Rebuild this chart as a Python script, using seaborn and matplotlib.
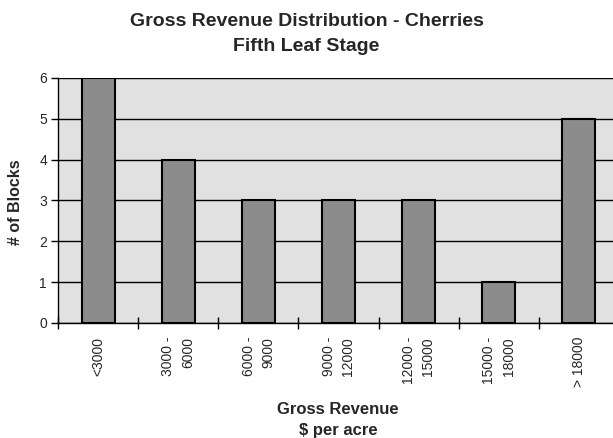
import matplotlib
matplotlib.use("Agg")
import matplotlib.pyplot as plt
import seaborn as sns
import pandas as pd
import numpy as np

categories = ["<3000", "3000 -\n6000", "6000 -\n9000", "9000 -\n12000",
              "12000 -\n15000", "15000 -\n18000", "> 18000"]
blocks = [6, 4, 3, 3, 3, 1, 5]
y_ticks = [0, 1, 2, 3, 4, 5, 6]

sns.set_style("white")
plt.rcParams['font.family'] = ['Liberation Sans', 'DejaVu Sans']

df = pd.DataFrame({"cat": categories, "n": blocks})

fig = plt.figure(figsize=(6.13, 4.38), dpi=100)
W, H = 613, 438
left, right, top, bottom = 58, 619, 78, 323
ax = fig.add_axes([left / W, 1 - bottom / H, (right - left) / W, (bottom - top) / H])
ax.set_facecolor("#e1e1e1")

sns.barplot(data=df, x="cat", y="n", ax=ax, color="#8c8c8c", saturation=1,
            edgecolor="black", linewidth=1.5, width=0.41, zorder=3)
for p in ax.patches:
    p.set_facecolor("#8c8c8c")

ax.set_xlim(-0.5, len(categories) - 0.5)
ax.set_ylim(0, 6)
ax.set_yticks(y_ticks)
ax.yaxis.grid(True, color="black", linewidth=1, zorder=1)
ax.set_axisbelow(True)

for s in ["top", "right"]:
    ax.spines[s].set_visible(False)
for s in ["left", "bottom"]:
    ax.spines[s].set_color("black")
    ax.spines[s].set_linewidth(1)
    ax.spines[s].set_zorder(4)

ax.tick_params(axis="y", direction="out", length=5, width=1, color="black",
               labelsize=10, pad=3, left=True)
ax.set_xticks(range(len(categories)))
ax.set_xticklabels(categories, rotation=90, ha="center", va="top",
                   multialignment="right", fontsize=10, linespacing=1.5)
ax.tick_params(axis="x", length=0, pad=10, bottom=True)
ax.set_xticks(np.arange(-0.5, len(categories), 1.0), minor=True)
ax.tick_params(axis="x", which="minor", direction="inout", length=9, width=1,
               color="black", bottom=True)

ax.set_xlabel("")
ax.set_ylabel("")

fig.text(16 / W, 1 - 202 / H, "# of Blocks", ha="center", va="center",
         rotation=90, fontsize=11.5, fontweight="bold")
fig.text(338 / W, 1 - 414 / H, "Gross Revenue", ha="center", va="baseline",
         fontsize=12, fontweight="bold")
fig.text(338 / W, 1 - 435 / H, "$ per acre", ha="center", va="baseline",
         fontsize=12, fontweight="bold")
fig.text(0.5, 1 - 26 / H, "Gross Revenue Distribution - Cherries", ha="center",
         va="baseline", fontsize=14, fontweight="bold")
fig.text(0.5, 1 - 51 / H, "Fifth Leaf Stage", ha="center",
         va="baseline", fontsize=14, fontweight="bold")

fig.savefig("out.png", dpi=100, facecolor="white")
